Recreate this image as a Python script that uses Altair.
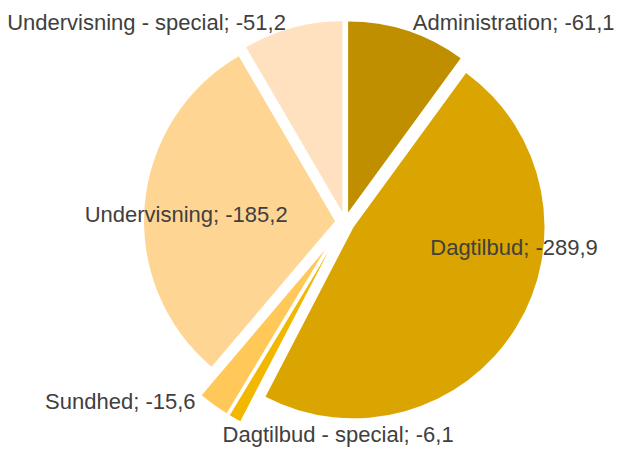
import altair as alt
import pandas as pd

# data
categories = ["Administration", "Dagtilbud", "Dagtilbud - special", "Sundhed",
              "Undervisning", "Undervisning - special"]
values = [-61.1, -289.9, -6.1, -15.6, -185.2, -51.2]

# style
colors = ["#BF8F00", "#DAA500", "#F2B800", "#FFC858", "#FFD594", "#FFE1BF"]
explode = [10, 10, 34, 34, 10, 10]          # px offset of each slice along its bisector
label_r = [261, 171, 213, 288, 159, 281]    # label distance from pie centre
label_da = [22.2, -23.1, -27.4, 15.6, -2.5, -29.8]  # label angle relative to bisector (deg)

CX, CY, R = 337, 214, 191

df = pd.DataFrame({
    "category": categories,
    "value": values,
    "order": list(range(len(categories))),
    "explode": explode,
    "lr": label_r,
    "lda": label_da,
})

base = alt.Chart(df).transform_calculate(
    absval="abs(datum.value)"
).transform_joinaggregate(
    total="sum(absval)"
).transform_window(
    cum="sum(absval)", sort=[alt.SortField("order")], frame=[None, 0]
).transform_calculate(
    a1="2*PI*datum.cum/datum.total",
).transform_calculate(
    a0="datum.a1 - 2*PI*datum.absval/datum.total",
).transform_calculate(
    mid="(datum.a0 + datum.a1)/2",
).transform_calculate(
    px=f"{CX} + datum.explode*sin(datum.mid)",
    py=f"{CY} - datum.explode*cos(datum.mid)",
    lx=f"{CX} + datum.lr*sin(datum.mid + datum.lda*PI/180)",
    ly=f"{CY} - datum.lr*cos(datum.mid + datum.lda*PI/180)",
    label="datum.category + '; -' + replace(format(datum.absval, '.1f'), '.', ',')",
)

arcs = base.mark_arc(outerRadius=R).encode(
    theta=alt.Theta("a0:Q", scale=None),
    theta2="a1:Q",
    x=alt.X("px:Q", scale=None, axis=None),
    y=alt.Y("py:Q", scale=None, axis=None),
    color=alt.Color("category:N", scale=alt.Scale(domain=categories, range=colors), legend=None),
)

labels = base.mark_text(
    font="Liberation Sans", fontSize=22, color="#404040", align="center", baseline="middle"
).encode(
    x=alt.X("lx:Q", scale=None, axis=None),
    y=alt.Y("ly:Q", scale=None, axis=None),
    text="label:N",
)

chart = alt.layer(arcs, labels).properties(
    width=606, height=442, padding=0, autosize=alt.AutoSizeParams(type="none")
).configure_view(stroke=None)

chart.save("out.html", embed_options={"renderer": "svg", "actions": False})
